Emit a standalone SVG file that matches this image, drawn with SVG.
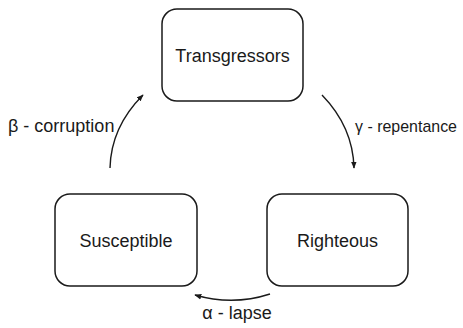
<svg xmlns="http://www.w3.org/2000/svg" width="463" height="328" viewBox="0 0 463 328">
<defs>
<marker id="ah" viewBox="0 0 10 10" refX="9" refY="5" markerWidth="7" markerHeight="7" markerUnits="userSpaceOnUse" orient="auto">
<path d="M0,1 L10,5 L0,9 Z" fill="#1a1a1a"/>
</marker>
<style>
.box{fill:#fff;stroke:#1a1a1a;stroke-width:1.5}
.lbl{font-family:"Liberation Sans",Arial,sans-serif;font-size:18px;fill:#1a1a1a}
.edge{fill:none;stroke:#1a1a1a;stroke-width:1.4;marker-end:url(#ah)}
</style>
</defs>
<rect width="463" height="328" fill="#fff"/>
<g id="transgressors">
<rect class="box" x="162" y="9" width="141" height="92" rx="15"/>
<text class="lbl" x="232.5" y="62" text-anchor="middle">Transgressors</text>
</g>
<g id="susceptible">
<rect class="box" x="55" y="194" width="142" height="92" rx="15"/>
<text class="lbl" x="126" y="247" text-anchor="middle">Susceptible</text>
</g>
<g id="righteous">
<rect class="box" x="267" y="194" width="141" height="92" rx="15"/>
<text class="lbl" x="337.5" y="247" text-anchor="middle">Righteous</text>
</g>
<g id="connectors">
<path class="edge" d="M110,168 Q111,127 143,95"/>
<path class="edge" d="M322,95 Q353,127 354,168"/>
<path class="edge" d="M270,294 Q233,306 195,295"/>
<text class="lbl" x="8" y="132">β - corruption</text>
<text class="lbl" x="355" y="132" style="font-size:17px" textLength="102" lengthAdjust="spacingAndGlyphs">γ - repentance</text>
<text class="lbl" x="237" y="319" text-anchor="middle">α - lapse</text>
</g>
</svg>
